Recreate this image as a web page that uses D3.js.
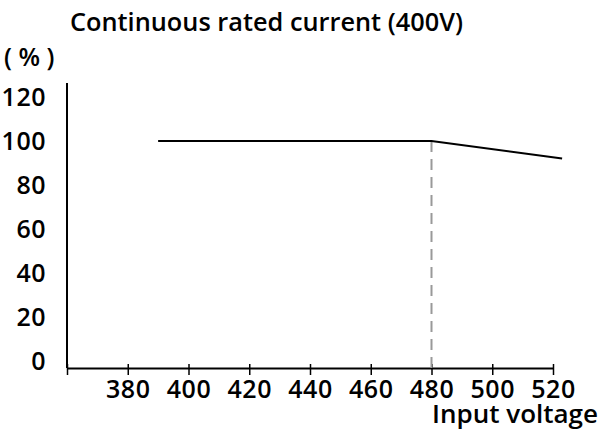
<!DOCTYPE html>
<html>
<head>
<meta charset="utf-8">
<script src="https://cdn.jsdelivr.net/npm/d3@7"></script>
<style>
  body { margin: 0; background: #fff; }
  text { font-family: "Open Sans", sans-serif; font-weight: 600; fill: #000; }
</style>
</head>
<body>
<script>
// voltage (V) vs. rated current (%)
var voltage = [390, 480, 523];
var current = [100, 100, 92];
var xTicks = [360, 380, 400, 420, 440, 460, 480, 500, 520];
var yTicks = [0, 20, 40, 60, 80, 100, 120];
var kneeVoltage = 480;

var w = 599, h = 433;

var x = d3.scaleLinear().domain([360, 520]).range([67, 553]);
var y = d3.scaleLinear().domain([0, 120]).range([361, 97]);
var axisY = 368;

var svg = d3.select("body").append("svg")
    .attr("width", w)
    .attr("height", h);

svg.append("text")
    .attr("x", 70).attr("y", 31)
    .style("font-size", "25px")
    .attr("textLength", 393)
    .attr("lengthAdjust", "spacingAndGlyphs")
    .text("Continuous rated current (400V)");

svg.append("text")
    .attr("x", 4).attr("y", 66)
    .style("font-size", "25px")
    .text("( % )");

// y axis: plain line, labels only
svg.append("line")
    .attr("x1", x(360)).attr("x2", x(360))
    .attr("y1", 83).attr("y2", axisY)
    .attr("stroke", "#000").attr("stroke-width", 2);

svg.selectAll(".ylab")
    .data(yTicks)
    .enter().append("text")
    .attr("class", "ylab")
    .attr("x", 46)
    .attr("y", function(d) { return y(d); })
    .attr("dy", "0.35em")
    .attr("text-anchor", "end")
    .style("font-size", "25px")
    .style("letter-spacing", "0.5px")
    .text(function(d) { return d; });

// x axis
var xAxis = d3.axisBottom(x)
    .tickValues(xTicks)
    .tickSizeInner(7)
    .tickSizeOuter(0)
    .tickPadding(5)
    .tickFormat(function(d) { return d === 360 ? "" : d; });

var gx = svg.append("g")
    .attr("transform", "translate(0," + axisY + ")")
    .call(xAxis);
gx.select(".domain").attr("stroke-width", 2);
gx.selectAll(".tick line").attr("y1", -4).attr("stroke-width", 1.5);
gx.selectAll(".tick text")
    .style("font-size", "25px")
    .style("font-family", "'Open Sans', sans-serif")
    .style("font-weight", 600)
    .style("letter-spacing", "0.5px")
    .attr("fill", "#000");

svg.append("text")
    .attr("x", 598).attr("y", 423)
    .attr("text-anchor", "end")
    .style("font-size", "26px")
    .text("Input voltage");

// dashed marker at knee
svg.append("line")
    .attr("x1", x(kneeVoltage)).attr("x2", x(kneeVoltage))
    .attr("y1", y(100)).attr("y2", axisY)
    .attr("stroke", "#999").attr("stroke-width", 2)
    .attr("stroke-dasharray", "11,7");

var line = d3.line()
    .x(function(d, i) { return x(d); })
    .y(function(d, i) { return y(current[i]); });

svg.append("path")
    .datum(voltage)
    .attr("d", line)
    .attr("fill", "none")
    .attr("stroke", "#000")
    .attr("stroke-width", 2);
</script>
</body>
</html>
